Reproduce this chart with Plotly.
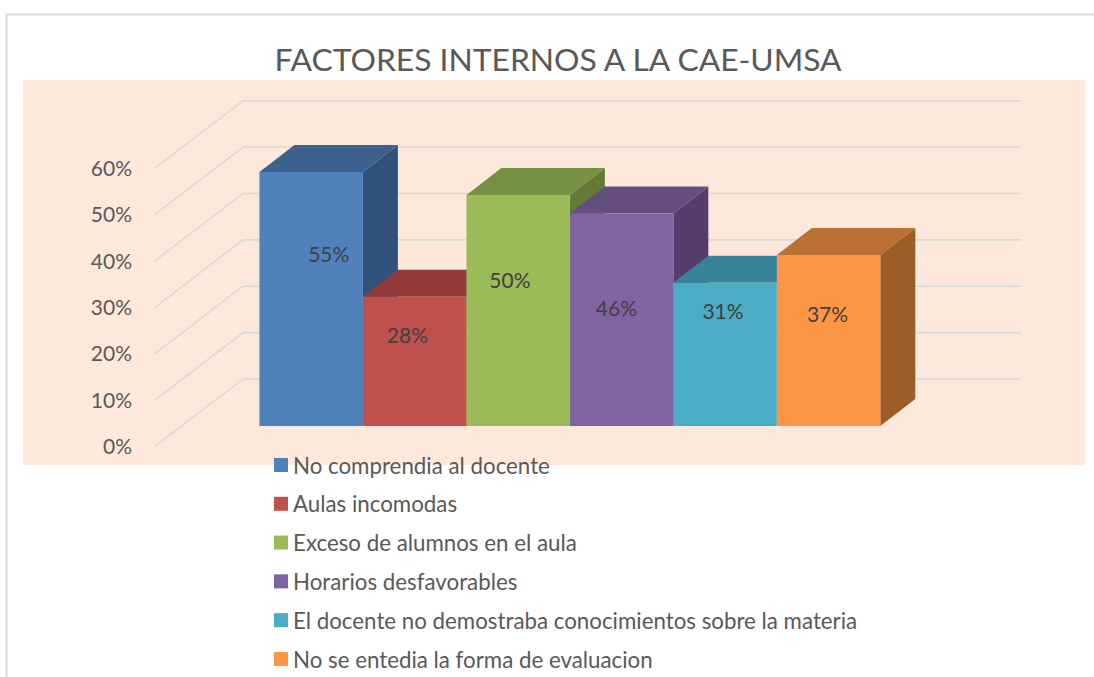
import plotly.graph_objects as go

TITLE = "FACTORES INTERNOS A LA CAE-UMSA"
categories = ["No comprendia al docente", "Aulas incomodas", "Exceso de alumnos en el aula",
              "Horarios desfavorables", "El docente no demostraba conocimientos sobre la materia",
              "No se entedia la forma de evaluacion"]
values = [55, 28, 50, 46, 31, 37]
tick_values = [0, 10, 20, 30, 40, 50, 60]
tick_labels = ["0%", "10%", "20%", "30%", "40%", "50%", "60%"]

front_colors = ["#4F81BD", "#C0504D", "#9BBB59", "#8064A2", "#4BACC6", "#FB9646"]
top_colors = ["#3C618E", "#953B39", "#769044", "#644E7E", "#39839A", "#BA7034"]
side_colors = ["#31527A", "#7F3230", "#637A38", "#543F6C", "#2F6F82", "#9C5E29"]

# pseudo-3D geometry in axis units
DEPTH_X, DEPTH_Y = 0.338, 5.84
WALL_X = [-1.514, -0.659, 6.860]
WALL_RISE = 14.6
LABEL_X = [0.17, 0.93, 1.92, 2.95, 3.98, 4.99]
LABEL_Y = [36.6, 19.1, 31.0, 24.9, 24.3, 23.6]

W, H = 1094, 677
fig = go.Figure()

# side walls and back wall grid lines
for t in tick_values:
    fig.add_trace(go.Scatter(x=WALL_X, y=[t, t + WALL_RISE, t + WALL_RISE], mode="lines",
                             line=dict(color="#D9D9D9", width=1.6), xaxis="x", yaxis="y",
                             hoverinfo="skip", showlegend=False))

# depth faces of every bar, left to right
for i, v in enumerate(values):
    fig.add_trace(go.Scatter(
        x=[i + .5, i + .5 + DEPTH_X, i + .5 + DEPTH_X, i + .5],
        y=[0, DEPTH_Y, v + DEPTH_Y, v], fill="toself", fillcolor=side_colors[i],
        mode="lines", line=dict(width=0), xaxis="x", yaxis="y2",
        hoverinfo="skip", showlegend=False))
    fig.add_trace(go.Scatter(
        x=[i - .5, i + .5, i + .5 + DEPTH_X, i - .5 + DEPTH_X],
        y=[v, v, v + DEPTH_Y, v + DEPTH_Y], fill="toself", fillcolor=top_colors[i],
        mode="lines", line=dict(width=0), xaxis="x", yaxis="y2",
        hoverinfo="skip", showlegend=False))

# front faces
for i, (c, v) in enumerate(zip(categories, values)):
    fig.add_trace(go.Bar(x=[i], y=[v], width=1, name=c, legendgroup=c,
                         marker=dict(color=front_colors[i], line=dict(width=0)),
                         xaxis="x", yaxis="y3"))

fig.add_trace(go.Scatter(x=LABEL_X, y=LABEL_Y, mode="text",
                         text=[f"{v}%" for v in values],
                         textfont=dict(family="Lato", size=21, color="#404040"),
                         xaxis="x", yaxis="y3", hoverinfo="skip", showlegend=False))

bar_range = [-8.44, 74.89]
fig.update_layout(
    width=W, height=H, margin=dict(l=0, r=0, t=0, b=0, autoexpand=False), autosize=False,
    paper_bgcolor="white", plot_bgcolor="#FDE9DB", barmode="overlay",
    font=dict(family="Lato", color="#595959"),
    title=dict(text=TITLE, x=558 / W, xanchor="center", y=1 - 60 / H, yanchor="middle",
               font=dict(family="Lato", size=31.8, color="#595959")),
    xaxis=dict(domain=[23 / W, 1085 / W], range=[-2.785, 7.478], visible=False),
    yaxis=dict(domain=[(H - 465) / H, (H - 80) / H], range=[-3.95, 79.06],
               anchor="free", position=132 / W, showgrid=False, zeroline=False, showline=False,
               tickvals=tick_values, ticktext=tick_labels, ticks="",
               tickfont=dict(family="Lato", size=21, color="#595959")),
    yaxis2=dict(domain=[(H - 465) / H, (H - 80) / H], range=bar_range, overlaying="y", visible=False),
    yaxis3=dict(domain=[(H - 465) / H, (H - 80) / H], range=bar_range, overlaying="y", visible=False),
    legend=dict(x=253 / W, xanchor="left", y=1 - 444 / H, yanchor="top", bgcolor="rgba(0,0,0,0)",
                font=dict(family="Lato", size=22.3, color="#595959"),
                tracegroupgap=6.8, itemclick=False, itemdoubleclick=False),
    shapes=[
        dict(type="line", xref="paper", yref="paper", x0=6.5 / W, x1=6.5 / W, y0=0, y1=1 - 14 / H,
             line=dict(color="#D9D9D9", width=2)),
        dict(type="line", xref="paper", yref="paper", x0=6 / W, x1=1, y0=1 - 14.5 / H, y1=1 - 14.5 / H,
             line=dict(color="#D9D9D9", width=2)),
    ],
)

post = """
document.body.style.margin='0';document.body.style.overflow='hidden';
function swatches(){document.querySelectorAll('.legend .legendpoints path').forEach(function(p){
  p.setAttribute('transform','translate(28,0) scale(1.17)');});}
[0,50,200,500].forEach(function(t){setTimeout(swatches,t);});
"""
fig.write_html("out.html", post_script=post, config={"displayModeBar": False})
